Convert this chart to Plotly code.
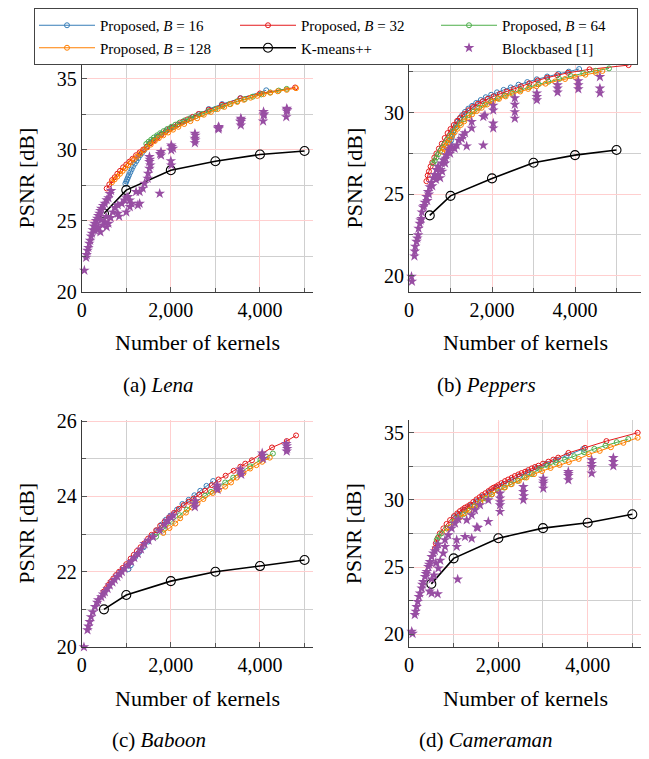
import plotly.graph_objects as go

# ---------------- data ----------------
KM_X = [500, 1000, 2000, 3000, 4000, 5000]

# (a) Lena
LENA_B16_X = [980, 1000, 1020, 1040, 1060, 1090, 1120, 1150, 1190, 1230, 1270, 1310, 1350, 1400, 1460, 1530, 1600, 1690, 1790, 1900, 2020, 2150, 2300, 2460, 2640, 2850, 3150, 3560, 4140]
LENA_B16_Y = [27.6, 27.75, 27.9, 28.05, 28.2, 28.4, 28.6, 28.8, 29.0, 29.2, 29.4, 29.6, 29.75, 29.95, 30.2, 30.45, 30.65, 30.9, 31.1, 31.35, 31.55, 31.75, 31.98, 32.2, 32.5, 32.85, 33.2, 33.62, 34.17]
LENA_B32_X = [560, 620, 680, 740, 800, 860, 930, 1000, 1070, 1140, 1220, 1300, 1380, 1460, 1540, 1620, 1700, 1790, 1880, 1970, 2060, 2160, 2260, 2370, 2490, 2620, 2850, 3150, 3560, 4000, 4790]
LENA_B32_Y = [27.26, 27.55, 27.85, 28.05, 28.3, 28.5, 28.75, 28.95, 29.15, 29.35, 29.6, 29.8, 30.0, 30.2, 30.45, 30.65, 30.85, 31.05, 31.25, 31.45, 31.6, 31.78, 31.95, 32.12, 32.3, 32.5, 32.8, 33.15, 33.6, 33.95, 34.37]
LENA_B64_X = [1450, 1500, 1560, 1620, 1690, 1760, 1840, 1920, 2010, 2100, 2200, 2310, 2430, 2560, 2700, 2850, 3000, 3160, 3320, 3490, 3660, 3840, 4030, 4230, 4420, 4600]
LENA_B64_Y = [30.4, 30.55, 30.7, 30.85, 31.0, 31.15, 31.3, 31.45, 31.6, 31.75, 31.9, 32.05, 32.2, 32.35, 32.5, 32.7, 32.85, 33.05, 33.2, 33.4, 33.55, 33.72, 33.88, 34.02, 34.15, 34.27]
LENA_B128_X = [680, 740, 800, 860, 920, 980, 1040, 1100, 1170, 1240, 1310, 1390, 1470, 1550, 1640, 1730, 1830, 1940, 2050, 2170, 2300, 2440, 2590, 2740, 2900, 3050, 3200, 3340, 3490, 3640, 3790, 3940, 4080, 4230, 4400, 4600, 4810]
LENA_B128_Y = [27.7, 27.9, 28.1, 28.3, 28.5, 28.7, 28.9, 29.1, 29.3, 29.5, 29.7, 29.95, 30.15, 30.35, 30.6, 30.8, 31.0, 31.2, 31.4, 31.6, 31.8, 32.0, 32.2, 32.45, 32.65, 32.85, 33.0, 33.2, 33.35, 33.5, 33.65, 33.78, 33.9, 34.0, 34.1, 34.2, 34.32]
LENA_KM_Y = [25.5, 27.15, 28.55, 29.18, 29.65, 29.9]
LENA_BB_X = [60, 100, 110, 130, 150, 170, 190, 210, 230, 250, 270, 290, 320, 350, 370, 400, 420, 440, 480, 520, 560, 600, 630, 660,
             300, 330, 370, 420, 470, 520, 560, 600, 440, 550, 650, 700, 750,
             810, 810, 840, 900, 960, 1000, 1040, 1080, 1080, 1000, 1120,
             1220, 1300, 1260, 1300, 1370, 1410, 1480, 1490, 1520, 1520, 1520, 1540, 1530,
             1750, 1780, 1780, 1760, 2010, 2010, 2010, 2050, 2020, 2000,
             2540, 2540, 2540, 2550, 2550, 3070, 3070, 3060, 3080,
             3570, 3570, 3570, 3560, 3580, 4080, 4080, 4070, 4090, 4600, 4600, 4590, 4610]
LENA_BB_Y = [21.5, 22.4, 22.6, 22.9, 23.1, 23.4, 23.6, 23.9, 24.1, 24.35, 24.6, 24.8, 25.0, 25.15, 25.35, 25.5, 25.7, 25.85, 26.05, 26.2, 26.45, 26.6, 26.9, 27.1,
             24.3, 24.5, 24.56, 24.2, 24.68, 24.9, 24.56, 24.8, 25.04, 25.27, 25.2, 25.6, 25.9,
             26.1, 25.5, 25.3, 26.2, 26.44, 26.6, 26.68, 25.97, 26.44, 25.6, 26.2,
             27.03, 27.03, 26.09, 26.2, 27.27, 27.62, 27.97, 28.32, 28.67, 29.14, 29.49, 28.9, 29.3,
             26.91, 29.84, 29.6, 29.7, 30.31, 29.96, 28.9, 30.08, 30.2, 29.2,
             31.13, 30.78, 30.47, 31.0, 30.66, 31.6, 31.44, 31.5, 31.55,
             32.19, 31.95, 31.72, 32.0, 32.1, 32.66, 32.42, 32.0, 32.5, 32.89, 32.7, 32.3, 32.8]

# (b) Peppers
PEP_B16_X = [1000, 1015, 1030, 1050, 1070, 1100, 1130, 1170, 1220, 1280, 1350, 1430, 1520, 1620, 1730, 1850, 1980, 2120, 2280, 2450, 2640, 2850, 3080, 3330, 3600, 3850, 4100]
PEP_B16_Y = [28.1, 28.3, 28.5, 28.65, 28.85, 29.05, 29.25, 29.45, 29.65, 29.85, 30.05, 30.25, 30.42, 30.6, 30.78, 30.95, 31.1, 31.25, 31.4, 31.55, 31.72, 31.88, 32.05, 32.22, 32.38, 32.52, 32.68]
PEP_B32_X = [420, 450, 480, 520, 560, 610, 660, 720, 790, 860, 930, 1000, 1080, 1160, 1240, 1330, 1430, 1540, 1660, 1780, 1900, 2040, 2190, 2350, 2520, 2700, 2900, 3100, 3330, 3570, 3830, 4350, 5290]
PEP_B32_Y = [25.8, 26.15, 26.4, 26.7, 26.95, 27.25, 27.5, 27.8, 28.1, 28.45, 28.75, 29.0, 29.25, 29.5, 29.7, 29.92, 30.15, 30.35, 30.55, 30.7, 30.85, 31.0, 31.15, 31.3, 31.45, 31.62, 31.8, 31.98, 32.15, 32.3, 32.45, 32.66, 32.92]
PEP_B64_X = [580, 620, 660, 700, 750, 800, 860, 920, 990, 1060, 1140, 1230, 1330, 1440, 1560, 1690, 1830, 1980, 2140, 2310, 2490, 2690, 2900, 3120, 3360, 3620, 3900, 4200, 4500, 4820]
PEP_B64_Y = [26.9, 27.05, 27.25, 27.45, 27.65, 27.85, 28.1, 28.35, 28.6, 28.85, 29.1, 29.35, 29.6, 29.85, 30.08, 30.3, 30.5, 30.7, 30.88, 31.05, 31.22, 31.4, 31.57, 31.74, 31.9, 32.07, 32.25, 32.42, 32.57, 32.72]
PEP_B128_X = [800, 840, 880, 930, 980, 1040, 1100, 1170, 1250, 1330, 1420, 1520, 1630, 1750, 1880, 2020, 2170, 2330, 2500, 2680, 2870, 3070, 3290, 3520, 3760, 4000, 4250, 4500, 4660]
PEP_B128_Y = [27.6, 27.78, 27.96, 28.15, 28.35, 28.58, 28.8, 29.02, 29.25, 29.47, 29.7, 29.9, 30.1, 30.3, 30.5, 30.68, 30.85, 31.0, 31.15, 31.3, 31.46, 31.62, 31.78, 31.92, 32.07, 32.2, 32.33, 32.45, 32.56]
PEP_KM_Y = [23.7, 24.9, 25.97, 26.93, 27.4, 27.71]
PEP_BB_X = [60, 70, 140, 150, 180, 220, 230, 260, 300, 310, 340, 380, 420, 460, 500, 540, 580, 620, 660, 700, 790, 800, 750, 830, 900, 950, 1030, 1100, 1150, 1270, 1350, 1510, 1510, 1390, 1790, 1790, 1830,
            2030, 2030, 2030, 2030, 2550, 2550, 2550, 2550, 3080, 3080, 3080, 3580, 3580, 3580, 4080, 4080, 4080, 4600, 4600, 4600,
            130, 200, 280, 360, 440, 480, 560, 650, 700, 760, 870, 880, 990, 1000, 1200, 1300]
PEP_BB_Y = [19.95, 19.65, 21.5, 21.8, 22.1, 22.5, 22.9, 23.2, 23.5, 23.9, 24.2, 24.5, 24.85, 25.15, 25.45, 25.7, 26.0, 26.2, 26.5, 26.7, 26.9, 26.4, 26.0, 27.1, 27.4, 27.7, 27.9, 27.8, 28.0, 28.4, 28.75, 29.05, 29.45, 27.95, 28.0, 29.75, 29.85,
            30.45, 30.15, 29.05, 29.35, 30.9, 30.5, 30.05, 29.65, 31.2, 30.98, 30.78, 31.7, 31.5, 31.25, 31.95, 31.7, 31.45, 32.2, 31.5, 31.2,
            21.2, 22.3, 23.4, 24.3, 24.6, 25.0, 25.5, 25.9, 26.2, 26.5, 26.9, 27.2, 27.5, 27.8, 28.3, 28.6]

# (c) Baboon
BAB_B16_X = [1050, 1100, 1200, 1290, 1390, 1490, 1590, 1690, 1790, 1890, 1990, 2140, 2260, 2400, 2530, 2660, 2800, 2950]
BAB_B16_Y = [22.07, 22.17, 22.39, 22.52, 22.65, 22.8, 22.95, 23.1, 23.25, 23.38, 23.49, 23.65, 23.8, 23.91, 24.03, 24.15, 24.28, 24.41]
BAB_B32_X = [490, 550, 600, 650, 710, 770, 840, 920, 1000, 1100, 1170, 1240, 1320, 1400, 1490, 1570, 1670, 1760, 1860, 1960, 2070, 2180, 2290, 2400, 2510, 2640, 2770, 2920, 3070, 3230, 3410, 3560, 3670, 3820, 4040, 4270, 4600, 4810]
BAB_B32_Y = [21.47, 21.56, 21.65, 21.73, 21.82, 21.91, 22.0, 22.1, 22.2, 22.35, 22.45, 22.55, 22.65, 22.75, 22.88, 22.98, 23.1, 23.22, 23.33, 23.44, 23.56, 23.67, 23.77, 23.86, 23.94, 24.05, 24.15, 24.3, 24.45, 24.55, 24.68, 24.79, 24.87, 24.96, 25.12, 25.3, 25.47, 25.62]
BAB_B64_X = [1670, 1840, 2020, 2200, 2360, 2550, 2770, 2900, 3030, 3220, 3400, 3560, 3780, 4010, 4150, 4290]
BAB_B64_Y = [22.93, 23.12, 23.33, 23.5, 23.65, 23.85, 24.02, 24.12, 24.24, 24.37, 24.5, 24.64, 24.8, 24.97, 25.05, 25.14]
BAB_B128_X = [1830, 1970, 2100, 2210, 2340, 2470, 2600, 2730, 2940, 3080, 3220, 3350, 3480, 3630, 3780, 3920, 4050, 4220]
BAB_B128_Y = [23.03, 23.16, 23.28, 23.42, 23.57, 23.71, 23.82, 23.93, 24.09, 24.17, 24.26, 24.37, 24.5, 24.62, 24.74, 24.83, 24.92, 25.03]
BAB_KM_Y = [21.0, 21.38, 21.75, 22.0, 22.15, 22.31]
BAB_BB_X = [50, 130, 150, 180, 210, 250, 300, 350, 370, 440, 480, 520, 580, 630, 690, 740, 800, 850, 900, 960, 1040, 1110, 1180, 1260, 1330, 1410, 1500, 1600, 1750, 1860, 1930, 2010, 2050,
            2530, 2550, 2540, 3030, 3040, 3050, 3570, 3560, 3580, 4060, 4070, 4050, 4600, 4610, 4590, 4600]
BAB_BB_Y = [20.0, 20.45, 20.55, 20.67, 20.8, 20.93, 21.07, 21.18, 21.25, 21.33, 21.4, 21.46, 21.55, 21.64, 21.72, 21.79, 21.87, 21.93, 22.0, 22.08, 22.17, 22.27, 22.37, 22.48, 22.6, 22.74, 22.83, 22.92, 23.1, 23.25, 23.36, 23.44, 23.5,
            23.8, 23.88, 23.72, 24.24, 24.3, 24.18, 24.65, 24.72, 24.58, 25.09, 25.0, 25.15, 25.34, 25.27, 25.4, 25.2]

# (d) Cameraman
CAM_B16_X = [1000, 1100, 1230, 1360, 1500, 1650, 1800, 1960, 2120, 2290, 2470, 2660, 2860, 3070, 3290, 3530, 3900]
CAM_B16_Y = [28.7, 28.95, 29.25, 29.55, 29.9, 30.25, 30.6, 30.9, 31.2, 31.48, 31.78, 32.08, 32.38, 32.68, 32.98, 33.3, 33.8]
CAM_B32_X = [580, 600, 640, 690, 770, 840, 920, 1010, 1080, 1140, 1200, 1250, 1310, 1370, 1440, 1510, 1580, 1640, 1710, 1780, 1840, 1890, 1950, 2000, 2070, 2150, 2220, 2300, 2370, 2450, 2520, 2600, 2670, 2750, 2820, 2900, 3000, 3120, 3230, 3340, 3570, 3940, 4420, 5120]
CAM_B32_Y = [26.4, 26.77, 27.14, 27.51, 27.88, 28.21, 28.5, 28.8, 29.0, 29.17, 29.3, 29.42, 29.52, 29.65, 29.85, 30.04, 30.2, 30.36, 30.5, 30.66, 30.8, 30.91, 31.0, 31.1, 31.25, 31.4, 31.52, 31.65, 31.78, 31.9, 32.0, 32.1, 32.22, 32.35, 32.45, 32.55, 32.7, 32.85, 33.0, 33.15, 33.5, 33.88, 34.38, 35.0]
CAM_B64_X = [620, 660, 730, 840, 990, 1100, 1220, 1340, 1460, 1590, 1720, 1850, 1990, 2130, 2280, 2430, 2590, 2750, 2920, 3100, 3290, 3490, 3700, 3920, 4150, 4400, 4650, 4910]
CAM_B64_Y = [27.02, 27.26, 27.51, 27.9, 28.38, 28.65, 28.95, 29.2, 29.5, 29.8, 30.1, 30.4, 30.68, 30.92, 31.17, 31.42, 31.68, 31.92, 32.3, 32.55, 32.78, 33.0, 33.25, 33.55, 33.8, 34.05, 34.3, 34.53]
CAM_B128_X = [840, 920, 1030, 1140, 1250, 1360, 1480, 1600, 1730, 1860, 2000, 2150, 2300, 2460, 2630, 2800, 2980, 3170, 3370, 3580, 3800, 4030, 4270, 4520, 4800, 5120]
CAM_B128_Y = [27.63, 27.96, 28.38, 28.7, 29.0, 29.27, 29.55, 29.85, 30.15, 30.42, 30.68, 30.93, 31.17, 31.42, 31.67, 31.92, 32.15, 32.38, 32.6, 32.82, 33.05, 33.4, 33.65, 33.92, 34.25, 34.63]
CAM_KM_Y = [23.75, 25.65, 27.15, 27.9, 28.3, 28.93]
CAM_BB_X = [60, 80, 130, 150, 170, 195, 220, 246, 284, 300, 320, 358, 380, 396, 432, 450, 470, 508, 544, 580, 620, 650,
            460, 508, 642, 508, 560, 657, 600, 700,
            768, 806, 806, 880, 956, 1030, 1104, 1068, 1068, 1090, 1254, 1404, 1292, 1404, 1516, 1478, 1590, 1776, 1776, 1540,
            2038, 2038, 2038, 2038, 2040, 2560, 2560, 2560, 2570, 3007, 3007, 3007, 3010,
            3567, 3567, 3567, 3570, 4090, 4090, 4090, 4090, 4575, 4575, 4575]
CAM_BB_Y = [20.2, 20.05, 21.45, 21.7, 22.05, 22.43, 22.8, 23.05, 23.42, 23.7, 23.91, 24.29, 24.5, 24.66, 25.03, 25.2, 25.4, 25.77, 26.03, 26.2, 26.4, 26.7,
            23.2, 23.05, 23.0, 24.1, 24.4, 24.91, 25.3, 25.5,
            26.03, 26.52, 27.02, 27.39, 27.89, 28.26, 28.56, 27.02, 26.52, 24.09, 27.26, 27.14, 28.5, 28.88, 27.96, 29.25, 29.62, 28.38, 29.99, 27.93,
            30.49, 29.62, 29.13, 30.12, 29.85, 30.98, 30.61, 30.0, 30.3, 31.6, 31.23, 30.86, 31.4,
            32.1, 31.8, 31.48, 31.95, 32.97, 32.47, 31.98, 32.7, 33.14, 32.84, 32.52]

SERIES_NAMES = ["Proposed, <i>B</i> = 16", "Proposed, <i>B</i> = 32", "Proposed, <i>B</i> = 64",
                "Proposed, <i>B</i> = 128", "K-means++", "Blockbased [1]"]
PANEL_LABELS = ["(a) <i>Lena</i>", "(b) <i>Peppers</i>", "(c) <i>Baboon</i>", "(d) <i>Cameraman</i>"]

# ---------------- styling ----------------
FONT = "Liberation Serif, Times New Roman, serif"
COLORS = ["#377eb8", "#e41a1c", "#4daf4a", "#ff7f00", "#000000", "#984ea3"]
PINK = "#ffcfcf"
GRAY = "#cfcfcf"
OFF = 8                      # page body margin of the html page
W, H = 649 - OFF, 759 - OFF  # figure size so that it fits the window


def fx(px):
    """screen x (px) -> paper fraction"""
    return (px - OFF) / W


def fy(py):
    """screen y (px, from top) -> paper fraction"""
    return 1 - (py - OFF) / H


panels = [
    dict(b16=(LENA_B16_X, LENA_B16_Y), b32=(LENA_B32_X, LENA_B32_Y), b64=(LENA_B64_X, LENA_B64_Y),
         b128=(LENA_B128_X, LENA_B128_Y), km=LENA_KM_Y, bb=(LENA_BB_X, LENA_BB_Y),
         xr=[0, 5190], yr=[20, 35.95], dy=5, mdy=2.5,
         xd=[81.7, 313], yd=[65, 291.7]),
    dict(b16=(PEP_B16_X, PEP_B16_Y), b32=(PEP_B32_X, PEP_B32_Y), b64=(PEP_B64_X, PEP_B64_Y),
         b128=(PEP_B128_X, PEP_B128_Y), km=PEP_KM_Y, bb=(PEP_BB_X, PEP_BB_Y),
         xr=[0, 5607], yr=[19.02, 32.97], dy=5, mdy=2.5,
         xd=[409, 641.7], yd=[64.3, 291.7]),
    dict(b16=(BAB_B16_X, BAB_B16_Y), b32=(BAB_B32_X, BAB_B32_Y), b64=(BAB_B64_X, BAB_B64_Y),
         b128=(BAB_B128_X, BAB_B128_Y), km=BAB_KM_Y, bb=(BAB_BB_X, BAB_BB_Y),
         xr=[0, 5190], yr=[20, 26.03], dy=2, mdy=1,
         xd=[81.7, 313], yd=[420, 647]),
    dict(b16=(CAM_B16_X, CAM_B16_Y), b32=(CAM_B32_X, CAM_B32_Y), b64=(CAM_B64_X, CAM_B64_Y),
         b128=(CAM_B128_X, CAM_B128_Y), km=CAM_KM_Y, bb=(CAM_BB_X, CAM_BB_Y),
         xr=[0, 5210], yr=[19.03, 35.95], dy=5, mdy=2.5,
         xd=[409, 641.7], yd=[420, 647.3]),
]

fig = go.Figure()
layout = {}
annotations = []

for i, p in enumerate(panels):
    n = "" if i == 0 else str(i + 1)
    xa, ya = "x" + n, "y" + n
    first = (i == 0)
    for k, key in enumerate(["b16", "b32", "b64", "b128"]):
        xs, ys = p[key]
        fig.add_trace(go.Scatter(
            x=xs, y=ys, xaxis=xa, yaxis=ya, mode="lines+markers", name=SERIES_NAMES[k],
            line=dict(color=COLORS[k], width=1),
            marker=dict(symbol="circle-open", size=5, color=COLORS[k], line=dict(width=1, color=COLORS[k])),
            showlegend=first, legendgroup=str(k)))
    fig.add_trace(go.Scatter(
        x=KM_X, y=p["km"], xaxis=xa, yaxis=ya, mode="lines+markers", name=SERIES_NAMES[4],
        line=dict(color="black", width=1.6),
        marker=dict(symbol="circle-open", size=9, color="black", line=dict(width=1.1, color="black")),
        showlegend=first, legendgroup="4"))
    bx, by = p["bb"]
    fig.add_trace(go.Scatter(
        x=bx, y=by, xaxis=xa, yaxis=ya, mode="markers", name=SERIES_NAMES[5],
        marker=dict(symbol="star", size=8, color=COLORS[5], line=dict(width=0)),
        cliponaxis=False, showlegend=first, legendgroup="5"))

    xdom = [fx(p["xd"][0]), fx(p["xd"][1])]
    ydom = [fy(p["yd"][1]), fy(p["yd"][0])]
    axcommon = dict(showline=True, linecolor="#3a3a3a", linewidth=1, mirror=False, zeroline=False,
                    showgrid=True, gridcolor=PINK, gridwidth=1, ticks="inside", ticklen=5,
                    tickcolor="#555555", tickwidth=1, automargin=False,
                    tickfont=dict(family=FONT, size=20, color="black"), tickmode="linear", tick0=0)
    layout["xaxis" + n] = dict(axcommon, domain=xdom, range=p["xr"], anchor=ya, dtick=2000,
                               tickformat=",d",
                               minor=dict(dtick=1000, showgrid=True, gridcolor=GRAY, gridwidth=1,
                                          ticks="inside", ticklen=4, tickcolor="#555555"))
    layout["yaxis" + n] = dict(axcommon, domain=ydom, range=p["yr"], anchor=xa, dtick=p["dy"],
                               minor=dict(dtick=p["mdy"], showgrid=True, gridcolor=GRAY, gridwidth=1,
                                          ticks="inside", ticklen=4, tickcolor="#555555"))
    xc = (p["xd"][0] + p["xd"][1]) / 2
    yc = (p["yd"][0] + p["yd"][1]) / 2
    annotations.append(dict(text="PSNR [dB]", textangle=-90, x=fx(p["xd"][0] - 55.5), y=fy(yc),
                            xref="paper", yref="paper", showarrow=False, xanchor="center", yanchor="middle",
                            font=dict(family=FONT, size=22, color="black")))
    annotations.append(dict(text="Number of kernels", x=fx(xc), y=fy(p["yd"][1] + 51),
                            xref="paper", yref="paper", showarrow=False, xanchor="center", yanchor="middle",
                            font=dict(family=FONT, size=22, color="black")))
    annotations.append(dict(text=PANEL_LABELS[i], x=fx(p["xd"][0] + 77), y=fy(p["yd"][1] + 93),
                            xref="paper", yref="paper", showarrow=False, xanchor="center", yanchor="middle",
                            font=dict(family=FONT, size=21, color="black")))

fig.update_layout(**layout)
fig.update_layout(
    width=W, height=H, margin=dict(l=0, r=0, t=0, b=0, autoexpand=False),
    paper_bgcolor="white", plot_bgcolor="white",
    font=dict(family=FONT, color="black"),
    annotations=annotations,
    legend=dict(orientation="h", x=fx(34), y=1.0, xanchor="left", yanchor="top",
                bordercolor="#444444", borderwidth=1, bgcolor="white",
                font=dict(family=FONT, size=15, color="black"),
                entrywidth=130, entrywidthmode="pixels", itemwidth=56, tracegroupgap=0),
)

fig.write_html("out.html")
